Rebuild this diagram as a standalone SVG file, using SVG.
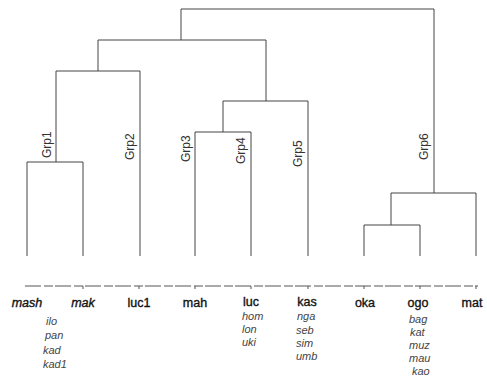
<svg xmlns="http://www.w3.org/2000/svg" width="487" height="378" viewBox="0 0 487 378">
<style>
.ln{fill:none;stroke:#444;stroke-width:1}
.ax{fill:none;stroke:#555;stroke-width:1;stroke-dasharray:16 3 9 2}
.tk{fill:none;stroke:#555;stroke-width:1}
.grp{font-family:"Liberation Sans",Arial,sans-serif;font-size:12px;fill:#333}
.top{font-family:"Liberation Sans",Arial,sans-serif;font-size:12.5px;fill:#111;stroke:#111;stroke-width:0.35;text-anchor:middle}
.it{font-style:italic}
.sub{font-family:"Liberation Sans",Arial,sans-serif;font-size:11px;font-style:italic;fill:#444}
</style>
<rect width="487" height="378" fill="#fff"/>
<g id="connectors">
<path class="ln" d="M181,40 V9 H434 V193"/>
<path class="ln" d="M98,71 V40 H266 V101"/>
<path class="ln" d="M56,162 V71 H140 V256"/>
<path class="ln" d="M27,256 V162 H83 V256"/>
<path class="ln" d="M223,132 V101 H308 V256"/>
<path class="ln" d="M195,256 V132 H251 V256"/>
<path class="ln" d="M391,225 V193 H476 V256"/>
<path class="ln" d="M364,256 V225 H420 V256"/>
</g>
<g id="axis">
<path class="ax" d="M25,286 H478"/>
<path class="tk" d="M83,286 v3 M139,286 v3 M195,286 v3 M251,286 v3 M308,286 v3 M364,286 v3 M420,286 v3 M476,286 v3"/>
</g>
<g id="group-labels">
<text class="grp" transform="translate(51,158) rotate(-90)">Grp1</text>
<text class="grp" transform="translate(134,160) rotate(-90)">Grp2</text>
<text class="grp" transform="translate(190,162) rotate(-90)">Grp3</text>
<text class="grp" transform="translate(245,164) rotate(-90)">Grp4</text>
<text class="grp" transform="translate(302,167) rotate(-90)">Grp5</text>
<text class="grp" transform="translate(428,160) rotate(-90)">Grp6</text>
</g>
<g id="leaf-mash"><text class="top it" x="27" y="307">mash</text>
<text class="sub" x="46" y="325">ilo</text><text class="sub" x="45" y="339">pan</text><text class="sub" x="43" y="354">kad</text><text class="sub" x="43" y="368">kad1</text></g>
<g id="leaf-mak"><text class="top it" x="83" y="307">mak</text></g>
<g id="leaf-luc1"><text class="top" x="139" y="307">luc1</text></g>
<g id="leaf-mah"><text class="top" x="195" y="307">mah</text></g>
<g id="leaf-luc"><text class="top" x="251" y="306">luc</text>
<text class="sub" x="242" y="320">hom</text><text class="sub" x="242" y="333">lon</text><text class="sub" x="242" y="346">uki</text></g>
<g id="leaf-kas"><text class="top" x="307" y="306">kas</text>
<text class="sub" x="297" y="320">nga</text><text class="sub" x="296" y="334">seb</text><text class="sub" x="296" y="347">sim</text><text class="sub" x="296" y="360">umb</text></g>
<g id="leaf-oka"><text class="top" x="365" y="307">oka</text></g>
<g id="leaf-ogo"><text class="top" x="418" y="307">ogo</text>
<text class="sub" x="409" y="323">bag</text><text class="sub" x="410" y="336">kat</text><text class="sub" x="409" y="349">muz</text><text class="sub" x="409" y="362">mau</text><text class="sub" x="412" y="375">kao</text></g>
<g id="leaf-mat"><text class="top" x="472" y="307">mat</text></g>
</svg>
